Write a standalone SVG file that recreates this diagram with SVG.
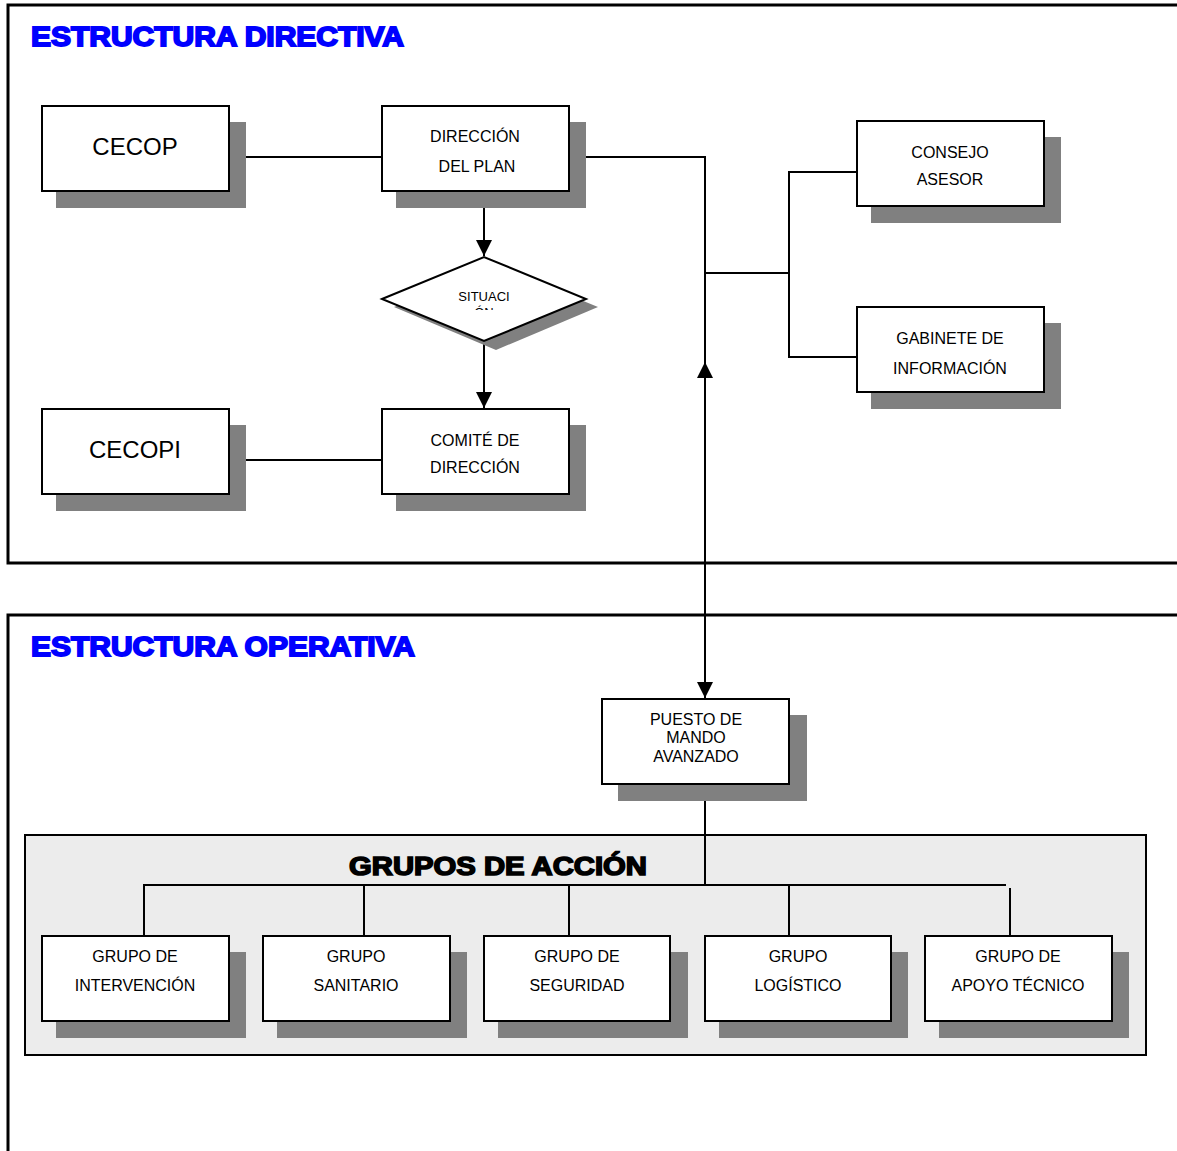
<svg xmlns="http://www.w3.org/2000/svg" width="1177" height="1151" viewBox="0 0 1177 1151">
<style>
.frame{fill:none;stroke:#000;stroke-width:3}
.box{fill:#fff;stroke:#000;stroke-width:2}
.sh{fill:#808080}
.t{font-family:"Liberation Sans",Arial,sans-serif;font-size:16px;fill:#000;text-anchor:middle}
.big{font-size:24px}
.ttl{font-family:"Liberation Sans",Arial,sans-serif;font-weight:bold;font-size:27px;fill:#0000ff;stroke:#0000ff;stroke-width:1.8}
.ln{fill:none;stroke:#000;stroke-width:2}
</style>
<defs>
<marker id="arr2" viewBox="0 0 10 10" refX="10" refY="5" markerWidth="16" markerHeight="16" markerUnits="userSpaceOnUse" orient="auto"><path d="M0,0 L10,5 L0,10 z" fill="#000"/></marker>
<clipPath id="dclip"><rect x="380" y="255" width="210" height="55"/></clipPath>
</defs>
<rect width="1177" height="1151" fill="#fff"/>
<g id="frames">
<path class="frame" d="M1180,5 H8 V563 H1180"/>
<path class="frame" d="M1180,615 H8 V1155"/>
<text class="ttl" x="31" y="46" textLength="373" lengthAdjust="spacingAndGlyphs">ESTRUCTURA DIRECTIVA</text>
<text class="ttl" x="31" y="656" textLength="384" lengthAdjust="spacingAndGlyphs">ESTRUCTURA OPERATIVA</text>
</g>
<g id="panel">
<rect x="25" y="835" width="1121" height="220" fill="#ececec" stroke="#000" stroke-width="2"/>
<text x="498" y="875" font-family="Liberation Sans,Arial,sans-serif" font-weight="bold" font-size="26" fill="#000" stroke="#000" stroke-width="1.6" text-anchor="middle" textLength="298" lengthAdjust="spacingAndGlyphs">GRUPOS DE ACCIÓN</text>
</g>
<g id="connectors">
<path class="ln" d="M246,157 H382"/>
<path class="ln" d="M586,157 H705 V365"/>
<path class="ln" d="M705,376 V698" marker-end="url(#arr2)"/>
<path class="ln" d="M705,560 V362" marker-end="url(#arr2)"/>
<path class="ln" d="M705,273 H789"/>
<path class="ln" d="M857,172 H789 V357 H857"/>
<path class="ln" d="M484,208 V256" marker-end="url(#arr2)"/>
<path class="ln" d="M484,342 V408" marker-end="url(#arr2)"/>
<path class="ln" d="M246,460 H382"/>
<path class="ln" d="M705,800 V885"/>
<path class="ln" d="M144,936 V885 H1006"/>
<path class="ln" d="M364,885 V936"/>
<path class="ln" d="M569,885 V936"/>
<path class="ln" d="M789,885 V936"/>
<path class="ln" d="M1010,888 V936"/>
</g>
<g id="cecop">
<rect class="sh" x="56" y="122" width="190" height="86"/>
<rect class="box" x="42" y="106" width="187" height="85"/>
<text class="t big" x="135" y="155">CECOP</text>
</g>
<g id="direccion">
<rect class="sh" x="396" y="122" width="190" height="86"/>
<rect class="box" x="382" y="106" width="187" height="85"/>
<text class="t" x="475" y="142">DIRECCIÓN</text>
<text class="t" x="477" y="172">DEL PLAN</text>
</g>
<g id="situacion">
<polygon points="394,307 496,265 598,307 496,350" fill="#808080"/>
<polygon points="382,299 484,257 586,299 484,341" fill="#fff" stroke="#000" stroke-width="2"/>
<text class="t" x="484" y="301" style="font-size:13px">SITUACI</text>
<text class="t" x="484" y="317" style="font-size:13px" clip-path="url(#dclip)">ÓN</text>
</g>
<g id="cecopi">
<rect class="sh" x="56" y="425" width="190" height="86"/>
<rect class="box" x="42" y="409" width="187" height="85"/>
<text class="t big" x="135" y="458">CECOPI</text>
</g>
<g id="comite">
<rect class="sh" x="396" y="425" width="190" height="86"/>
<rect class="box" x="382" y="409" width="187" height="85"/>
<text class="t" x="475" y="446">COMITÉ DE</text>
<text class="t" x="475" y="473">DIRECCIÓN</text>
</g>
<g id="consejo">
<rect class="sh" x="871" y="137" width="190" height="86"/>
<rect class="box" x="857" y="121" width="187" height="85"/>
<text class="t" x="950" y="158">CONSEJO</text>
<text class="t" x="950" y="185">ASESOR</text>
</g>
<g id="gabinete">
<rect class="sh" x="871" y="323" width="190" height="86"/>
<rect class="box" x="857" y="307" width="187" height="85"/>
<text class="t" x="950" y="344">GABINETE DE</text>
<text class="t" x="950" y="374">INFORMACIÓN</text>
</g>
<g id="pma">
<rect class="sh" x="618" y="715" width="189" height="86"/>
<rect class="box" x="602" y="699" width="187" height="85"/>
<text class="t" x="696" y="725">PUESTO DE</text>
<text class="t" x="696" y="743">MANDO</text>
<text class="t" x="696" y="762">AVANZADO</text>
</g>
<g id="g-intervencion">
<rect class="sh" x="56" y="952" width="190" height="86"/>
<rect class="box" x="42" y="936" width="187" height="85"/>
<text class="t" x="135" y="962">GRUPO DE</text>
<text class="t" x="135" y="991">INTERVENCIÓN</text>
</g>
<g id="g-sanitario">
<rect class="sh" x="277" y="952" width="190" height="86"/>
<rect class="box" x="263" y="936" width="187" height="85"/>
<text class="t" x="356" y="962">GRUPO</text>
<text class="t" x="356" y="991">SANITARIO</text>
</g>
<g id="g-seguridad">
<rect class="sh" x="498" y="952" width="190" height="86"/>
<rect class="box" x="484" y="936" width="186" height="85"/>
<text class="t" x="577" y="962">GRUPO DE</text>
<text class="t" x="577" y="991">SEGURIDAD</text>
</g>
<g id="g-logistico">
<rect class="sh" x="719" y="952" width="189" height="86"/>
<rect class="box" x="705" y="936" width="186" height="85"/>
<text class="t" x="798" y="962">GRUPO</text>
<text class="t" x="798" y="991">LOGÍSTICO</text>
</g>
<g id="g-apoyo">
<rect class="sh" x="939" y="952" width="190" height="86"/>
<rect class="box" x="925" y="936" width="187" height="85"/>
<text class="t" x="1018" y="962">GRUPO DE</text>
<text class="t" x="1018" y="991">APOYO TÉCNICO</text>
</g>
</svg>
